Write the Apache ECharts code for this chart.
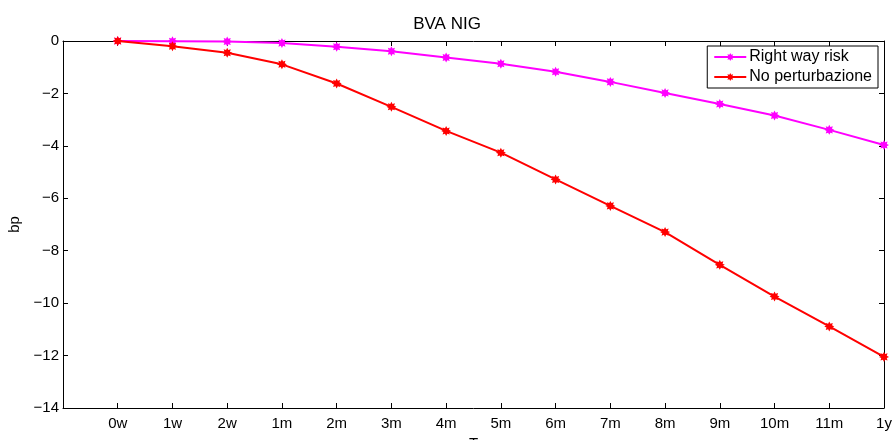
<!DOCTYPE html>
<html><head><meta charset="utf-8">
<script src="https://cdn.jsdelivr.net/npm/echarts@6/dist/echarts.min.js"></script>
<style>html,body{margin:0;padding:0;background:#fff}#c{width:894px;height:440px}</style>
</head><body><div id="c"></div>
<script>
const categories = ['0w','1w','2w','1m','2m','3m','4m','5m','6m','7m','8m','9m','10m','11m','1y'];
const rightWayRisk = [0, -0.01, -0.02, -0.08, -0.22, -0.39, -0.63, -0.87, -1.17, -1.56, -1.98, -2.40, -2.84, -3.39, -3.97];
const noPerturbazione = [0, -0.2, -0.45, -0.89, -1.62, -2.51, -3.43, -4.26, -5.28, -6.29, -7.29, -8.54, -9.75, -10.89, -12.05];
const yTicks = {min: -14, max: 0, interval: 2};

const star = 'path://M20,10 L15.54,12.3 L17.07,17.07 L12.3,15.54 L10,20 L7.7,15.54 L2.93,17.07 L4.46,12.3 L0,10 L4.46,7.7 L2.93,2.93 L7.7,4.46 L10,0 L12.3,4.46 L17.07,2.93 L15.54,7.7 Z';
const font = 'Liberation Sans, Arial, sans-serif';
const toPts = arr => arr.map((v, i) => [i, v]);
const axisCommon = () => ({
  axisLine: {show: true, onZero: false, lineStyle: {color: '#000', width: 1}},
  axisTick: {show: true, inside: true, length: 5, lineStyle: {color: '#000'}},
  splitLine: {show: false}
});
const chart = echarts.init(document.getElementById('c'));
chart.setOption({
  animation: false,
  textStyle: {fontFamily: font},
  title: {text: 'BVA NIG', left: 'center', top: 11, textStyle: {fontFamily: font, fontSize: 17, fontWeight: 'normal', color: '#000'}},
  grid: {left: 63, right: 10, top: 41, bottom: 32, outerBoundsMode: 'none', containLabel: false},
  legend: {
    orient: 'vertical', right: 16, top: 46, itemGap: 4, itemWidth: 32, itemHeight: 10,
    padding: [3, 6, 3, 6],
    borderColor: '#000', borderWidth: 1, backgroundColor: '#fff', borderRadius: 0,
    textStyle: {fontFamily: font, fontSize: 16, color: '#000', padding: [0, 0, 0, -2]},
    data: ['Right way risk', 'No perturbazione']
  },
  xAxis: [
    Object.assign(axisCommon(), {type: 'value', min: -1, max: 14, interval: 1, position: 'bottom',
      name: 'T', nameLocation: 'middle', nameGap: 27,
      nameTextStyle: {fontFamily: font, fontSize: 15, color: '#000', verticalAlign: 'top'},
      axisLabel: {color: '#000', fontSize: 15, fontFamily: font, margin: 8,
        formatter: v => (v >= 0 && categories[v] !== undefined) ? categories[v] : ''}
    }),
    Object.assign(axisCommon(), {type: 'value', min: -1, max: 14, interval: 1, position: 'top', axisLabel: {show: false}})
  ],
  yAxis: [
    Object.assign(axisCommon(), {type: 'value', min: yTicks.min, max: yTicks.max, interval: yTicks.interval, position: 'left',
      name: 'bp', nameLocation: 'middle', nameGap: 35, nameRotate: 90,
      nameTextStyle: {fontFamily: font, fontSize: 15, color: '#000'},
      axisLabel: {color: '#000', fontSize: 15, fontFamily: font, margin: 4,
        formatter: v => String(v).replace('-', '\u2212')}
    }),
    Object.assign(axisCommon(), {type: 'value', min: yTicks.min, max: yTicks.max, interval: yTicks.interval, position: 'right', axisLabel: {show: false}})
  ],
  series: [
    {name: 'Right way risk', type: 'line', data: toPts(rightWayRisk), symbol: star, symbolSize: 10,
      color: '#ff00ff', lineStyle: {width: 2, color: '#ff00ff'}, itemStyle: {color: '#ff00ff'}, z: 3},
    {name: 'No perturbazione', type: 'line', data: toPts(noPerturbazione), symbol: star, symbolSize: 10,
      color: '#ff0000', lineStyle: {width: 2, color: '#ff0000'}, itemStyle: {color: '#ff0000'}, z: 4}
  ]
});
</script></body></html>
